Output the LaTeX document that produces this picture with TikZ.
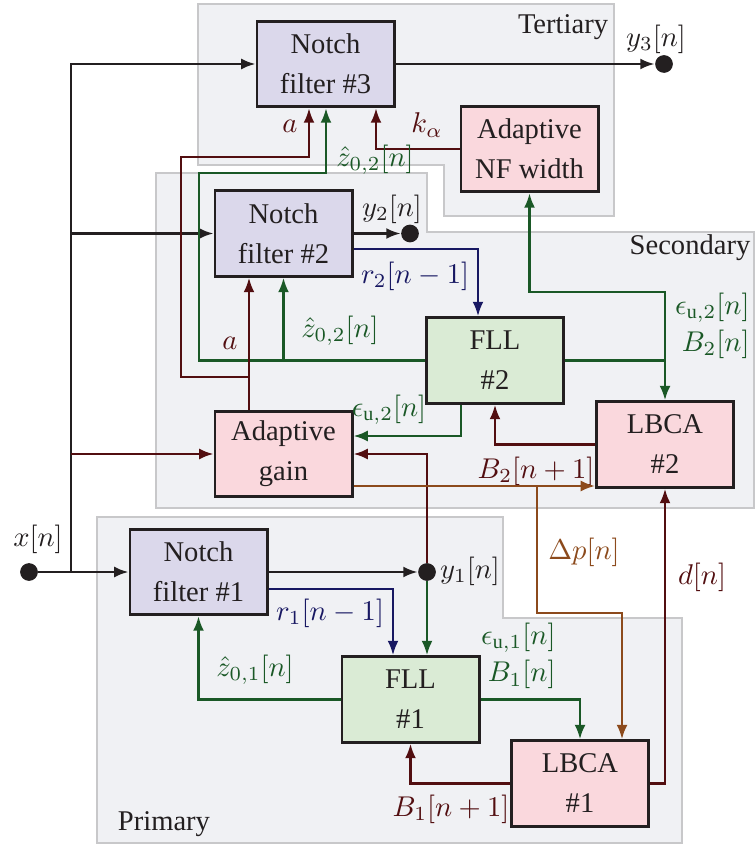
\documentclass[tikz,border=0pt]{standalone}
\usepackage{fontspec}
\setmainfont{Liberation Serif}
\usepackage{tikz}
\usetikzlibrary{arrows.meta,calc}
\definecolor{ink}{RGB}{35,31,32}
\definecolor{nffill}{RGB}{219,216,235}
\definecolor{adpfill}{RGB}{250,216,221}
\definecolor{fllfill}{RGB}{218,235,213}
\definecolor{regfill}{RGB}{240,241,244}
\definecolor{regline}{RGB}{200,200,202}
\definecolor{dred}{RGB}{82,14,16}
\definecolor{dgreen}{RGB}{26,88,38}
\definecolor{navy}{RGB}{24,24,98}
\definecolor{brn}{RGB}{140,74,28}
\tikzset{
  >=Latex,
  blk/.style={rectangle, draw=ink, line width=1pt, minimum width=48pt, minimum height=30pt, align=center, font=\fontsize{10}{14}\selectfont, text=ink},
  nf/.style={blk, fill=nffill},
  adp/.style={blk, fill=adpfill},
  fll/.style={blk, fill=fllfill},
  region/.style={draw=regline, fill=regfill, line width=0.4pt},
  sig/.style={-{Latex[length=5pt,width=3.8pt]}, line width=0.8pt, draw=ink},
  dot/.style={circle, fill=ink, inner sep=0pt, minimum size=6.2pt},
  lbl/.style={font=\fontsize{10}{13}\selectfont, inner sep=0pt, text=ink}
}
\begin{document}
\begin{tikzpicture}[x=0.35pt, y=-0.35pt]
    \useasboundingbox (0,0) rectangle (755,844);

    % stage regions
    \draw[region] (198,4) -- (614,4) -- (614,216) -- (444,216) -- (444,165) -- (198,165) -- cycle;
    \draw[region] (156,173) -- (427,173) -- (427,232) -- (754,232) -- (754,508) -- (156,508) -- cycle;
    \draw[region] (97,517) -- (503,517) -- (503,618) -- (682,618) -- (682,843) -- (97,843) -- cycle;
    \node[lbl] (tert) at (563,27) {Tertiary};
    \node[lbl] (sec) at (690,248) {Secondary};
    \node[lbl] (prim) at (164,824) {Primary};

    % blocks
    \node[nf] (nf3) at (325.5,64) {Notch\\filter \#3};
    \node[adp] (anw) at (529.5,149) {Adaptive\\NF width};
    \node[nf] (nf2) at (283.5,233.5) {Notch\\filter \#2};
    \node[fll] (fll2) at (495,360.5) {FLL\\\#2};
    \node[adp] (lbca2) at (665,444.5) {LBCA\\\#2};
    \node[adp] (ag) at (283.5,454) {Adaptive\\gain};
    \node[nf] (nf1) at (198.5,572) {Notch\\filter \#1};
    \node[fll] (fll1) at (410.5,699.5) {FLL\\\#1};
    \node[adp] (lbca1) at (580,783.5) {LBCA\\\#1};

    % input and outputs
    \node[dot] (xin) at (29,572) {};
    \node[lbl] (xlbl) at (38,539) {$x[n]$};
    \node[dot] (y3) at (664,64) {};
    \node[lbl] (y3lbl) at (656,39) {$y_3[n]$};
    \node[dot] (y2) at (410,233.5) {};
    \node[lbl] (y2lbl) at (392,209) {$y_2[n]$};
    \node[dot] (y1) at (427,572) {};
    \node[lbl] (y1lbl) at (470,571) {$y_1[n]$};
    \coordinate (busb) at (71,572);

    % x[n] bus
    \draw[sig] (xin) -- (nf1.west);
    \draw[sig] (busb) |- (nf3.west);
    \draw[sig] (nf2.west -| busb) -- (nf2.west);
    \draw[sig, draw=dred] (ag.west -| busb) -- (ag.west);

    % tertiary
    \draw[sig] (nf3.east) -- (y3);
    \draw[sig, draw=dred] (anw.west) -| ($(nf3.south)+(50.5,0)$);
    \node[lbl, text=dred] (kalbl) at (427,125) {$k_\alpha$};

    % secondary
    \draw[sig] (nf2.east) -- (y2);
    \draw[sig, draw=navy] ($(nf2.east)+(0,15.5)$) -| ($(fll2.north)+(-17,0)$);
    \node[lbl, text=navy] (r2lbl) at (415,276) {$r_2[n-1]$};
    \draw[sig, draw=dgreen] (fll2.west) -| (199,173) -| ($(nf3.south)+(0.5,0)$);
    \draw[sig, draw=dgreen] (fll2.west -| nf2.south) -- (nf2.south);
    \node[lbl, text=dgreen] (z2lbla) at (375,160) {$\hat{z}_{0,2}[n]$};
    \node[lbl, text=dgreen] (z2lblb) at (340,331) {$\hat{z}_{0,2}[n]$};
    \coordinate (aj) at (249,377);
    \draw[sig, draw=dred] ($(ag.north)+(-34.5,0)$) -- ($(nf2.south)+(-34.5,0)$);
    \draw[sig, draw=dred] (aj) -| (181,157) -| ($(nf3.south)+(-16.5,0)$);
    \node[lbl, text=dred] (albla) at (290,126) {$a$};
    \node[lbl, text=dred] (alblb) at (230,343) {$a$};
    \draw[sig, draw=dgreen] (fll2.east) -| (lbca2.north);
    \draw[sig, draw=dgreen] (fll2.east -| lbca2.north) -- ++(0,-68.5) -| (anw.south);
    \node[lbl, text=dgreen, align=right, anchor=east] (eb2lbl) at (750,326) {$\epsilon_{\mathrm{u},2}[n]$\\$B_2[n]$};
    \draw[sig, draw=dgreen] ($(fll2.south)+(-34,0)$) |- ($(ag.east)+(0,-18)$);
    \node[lbl, text=dgreen] (e2lbl) at (389,410) {$\epsilon_{\mathrm{u},2}[n]$};
    \draw[sig, draw=dred] (y1) |- (ag.east);
    \draw[sig, draw=dred] (lbca2.west) -| (fll2.south);
    \node[lbl, text=dred] (b2lbl) at (536,471) {$B_2[n+1]$};
    \coordinate (agout) at ($(ag.east)+(0,32)$);
    \draw[sig, draw=brn] (agout) -- (agout -| lbca2.west);
    \coordinate (dpj) at (537,486);
    \draw[sig, draw=brn] (dpj) -- ++(0,127) -| ($(lbca1.north)+(42,0)$);
    \node[lbl, text=brn] (dplbl) at (584,552) {$\Delta p[n]$};

    % primary
    \draw[sig] (nf1.east) -- (y1);
    \draw[sig, draw=navy] ($(nf1.east)+(0,17)$) -| ($(fll1.north)+(-17.5,0)$);
    \node[lbl, text=navy] (r1lbl) at (330,613) {$r_1[n-1]$};
    \draw[sig, draw=dgreen] (y1) -- (y1 |- fll1.north);
    \draw[sig, draw=dgreen] (fll1.west) -| (nf1.south);
    \node[lbl, text=dgreen] (z1lbl) at (255,670) {$\hat{z}_{0,1}[n]$};
    \draw[sig, draw=dgreen] (fll1.east) -| (lbca1.north);
    \node[lbl, text=dgreen, align=right, anchor=east] (eb1lbl) at (556,656) {$\epsilon_{\mathrm{u},1}[n]$\\$B_1[n]$};
    \draw[sig, draw=dred] (lbca1.west) -| (fll1.south);
    \node[lbl, text=dred] (b1lbl) at (451,809) {$B_1[n+1]$};
    \draw[sig, draw=dred] (lbca1.east) -| (lbca2.south);
    \node[lbl, text=dred] (dlbl) at (702,577) {$d[n]$};
\end{tikzpicture}
\end{document}
